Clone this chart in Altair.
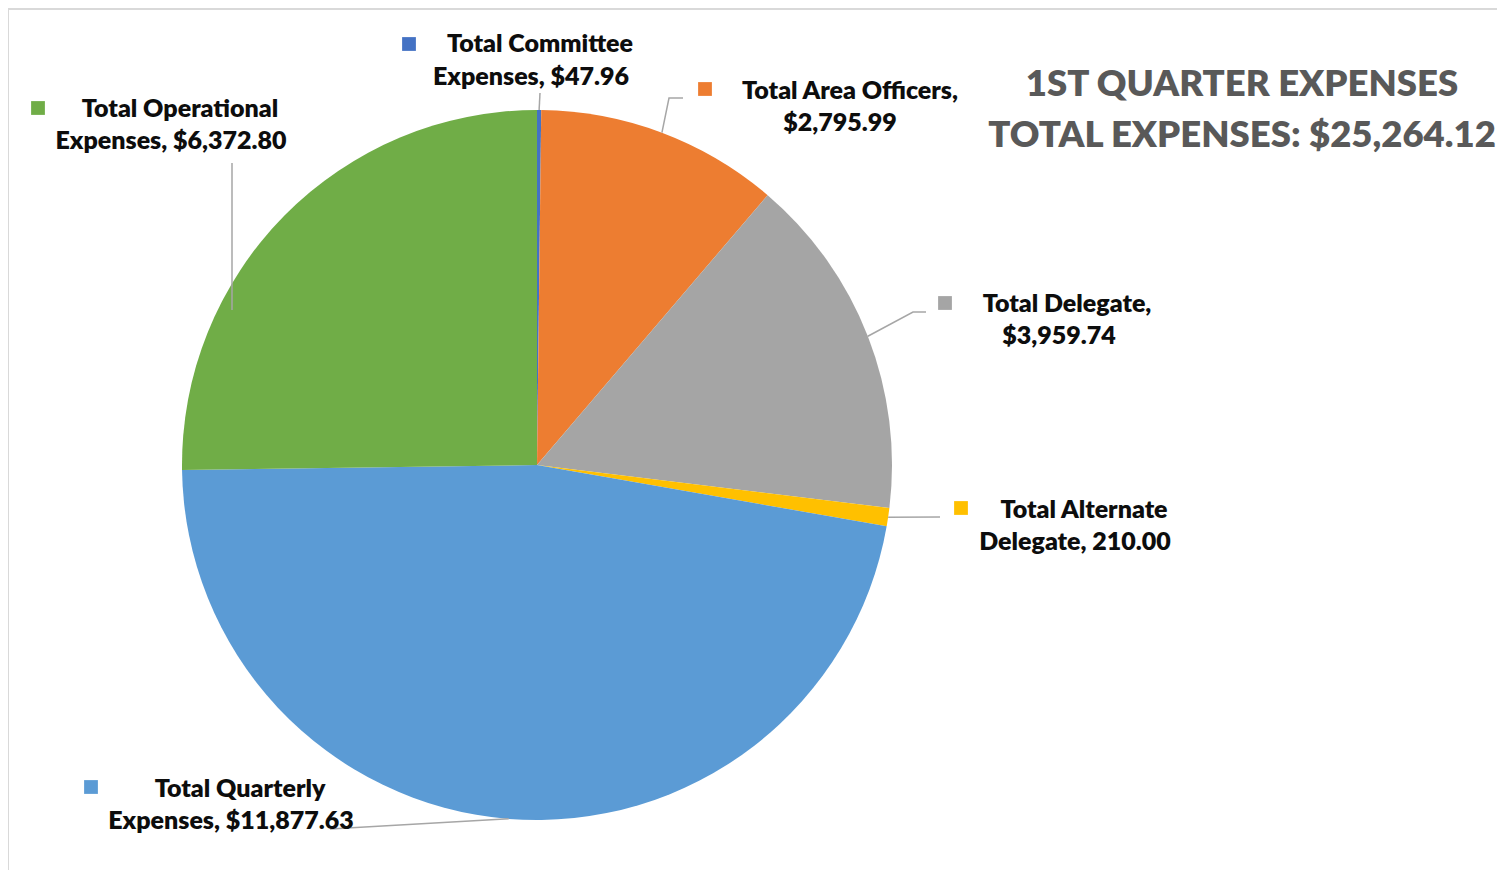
import altair as alt
import pandas as pd
import numpy as np

# ---------------- data ----------------
categories = ["Total Committee Expenses", "Total Area Officers", "Total Delegate",
              "Total Alternate Delegate", "Total Quarterly Expenses", "Total Operational Expenses"]
values = [47.96, 2795.99, 3959.74, 210.00, 11877.63, 6372.80]
colors = ["#4472C4", "#ED7D31", "#A5A5A5", "#FFC000", "#5B9BD5", "#70AD47"]
label_line1 = ["Total Committee", "Total Area Officers,", "Total Delegate,",
               "Total Alternate", "Total Quarterly", "Total Operational"]
label_line2 = ["Expenses, $47.96", "$2,795.99", "$3,959.74",
               "Delegate, 210.00", "Expenses, $11,877.63", "Expenses, $6,372.80"]
title_lines = ["1ST QUARTER EXPENSES", "TOTAL EXPENSES: $25,264.12"]

# ---------------- layout (page pixels) ----------------
OFF = 8
W, H = 1505 - 2 * OFF, 878 - 2 * OFF
CX, CY, R = 537 - OFF, 465 - OFF, 355
FONT = "Lato"

# per label: line1 center x, line2 center x, line1 baseline, line2 baseline, marker x, marker y
label_layout = [
    (540, 531, 52, 85, 409, 44),
    (850, 840, 99, 131, 705, 89),
    (1067, 1059, 312, 344, 945, 303),
    (1084, 1075, 518, 550, 961, 508),
    (240, 231, 797, 829, 91, 787),
    (180, 171, 117, 149, 38, 108),
]
# leader waypoints after the slice-edge point (None -> explicit full path)
leader_waypoints = [
    [(540, 93)],
    [(669, 98), (683, 98)],
    [(913, 312), (926, 312)],
    [(940, 517)],
    [(330, 829)],
    None,
]
leader_explicit = {5: [(232, 310), (232, 163)]}

# ---------------- tables ----------------
pie_df = pd.DataFrame({"category": categories, "value": values, "idx": range(len(values))})

total = sum(values)
cum = np.cumsum([0] + values[:-1])
rows = []
for i, v in enumerate(values):
    if leader_waypoints[i] is None:
        pts = [(x - OFF, y - OFF) for x, y in leader_explicit[i]]
    else:
        ang = 2 * np.pi * (cum[i] + v / 2) / total
        pts = [(CX + R * np.sin(ang), CY - R * np.cos(ang))]
        pts += [(x - OFF, y - OFF) for x, y in leader_waypoints[i]]
    for j, (px, py) in enumerate(pts):
        rows.append({"lid": i, "idx": j, "px": px, "py": py})
leader_df = pd.DataFrame(rows)

text_rows = []
marker_rows = []
for i, (x1, x2, y1, y2, mx, my) in enumerate(label_layout):
    text_rows.append({"text": label_line1[i], "x": x1 - OFF, "y": y1 - OFF})
    text_rows.append({"text": label_line2[i], "x": x2 - OFF, "y": y2 - OFF})
    marker_rows.append({"category": categories[i], "x": mx - OFF, "y": my - OFF})
text_df = pd.DataFrame(text_rows)
marker_df = pd.DataFrame(marker_rows)

title_df = pd.DataFrame({"text": title_lines, "x": [1242 - OFF] * 2, "y": [96 - OFF, 147 - OFF]})

color_scale = alt.Scale(domain=categories, range=colors)

# ---------------- layers ----------------
one = pd.DataFrame({"a": [1]})

border_top = alt.Chart(one).mark_rule(color="#d9d9d9", strokeWidth=2).encode(
    x=alt.value(0), x2=alt.value(W), y=alt.value(1))
border_left = alt.Chart(one).mark_rule(color="#d9d9d9", strokeWidth=2).encode(
    x=alt.value(0), y=alt.value(1), y2=alt.value(H))

shadows = []
for dr, op in [(6, 0.025), (4, 0.04), (2, 0.06)]:
    shadows.append(
        alt.Chart(one).mark_arc(radius=R + dr, color="#000000", opacity=op).encode(
            theta=alt.Theta("a:Q"), x=alt.value(CX + 1), y=alt.value(CY + 3))
    )

pie = alt.Chart(pie_df).mark_arc(radius=R).encode(
    theta=alt.Theta("value:Q", stack=True),
    order=alt.Order("idx:Q"),
    color=alt.Color("category:N", scale=color_scale, legend=None),
    x=alt.value(CX), y=alt.value(CY),
)

leaders = alt.Chart(leader_df).mark_line(color="#a6a6a6", strokeWidth=1.5).encode(
    x=alt.X("px:Q", scale=None), y=alt.Y("py:Q", scale=None),
    detail="lid:N", order="idx:Q")

markers = alt.Chart(marker_df).mark_square(size=190, opacity=1, filled=True).encode(
    x=alt.X("x:Q", scale=None), y=alt.Y("y:Q", scale=None),
    color=alt.Color("category:N", scale=color_scale, legend=None))

labels = alt.Chart(text_df).mark_text(
    font=FONT, fontWeight=800, fontSize=25, color="#0d0d0d",
    align="center", baseline="alphabetic").encode(
    x=alt.X("x:Q", scale=None), y=alt.Y("y:Q", scale=None), text="text:N")

title = alt.Chart(title_df).mark_text(
    font=FONT, fontWeight=800, fontSize=36.5, color="#595959",
    align="center", baseline="alphabetic").encode(
    x=alt.X("x:Q", scale=None), y=alt.Y("y:Q", scale=None), text="text:N")

chart = alt.layer(
    border_top, border_left, *shadows, pie, leaders, markers, labels, title
).properties(
    width=W, height=H, padding=0, autosize=alt.AutoSizeParams(type="none")
).configure_view(stroke=None).configure(background="white")

chart.save("out.html", embed_options={"renderer": "svg", "actions": False})
